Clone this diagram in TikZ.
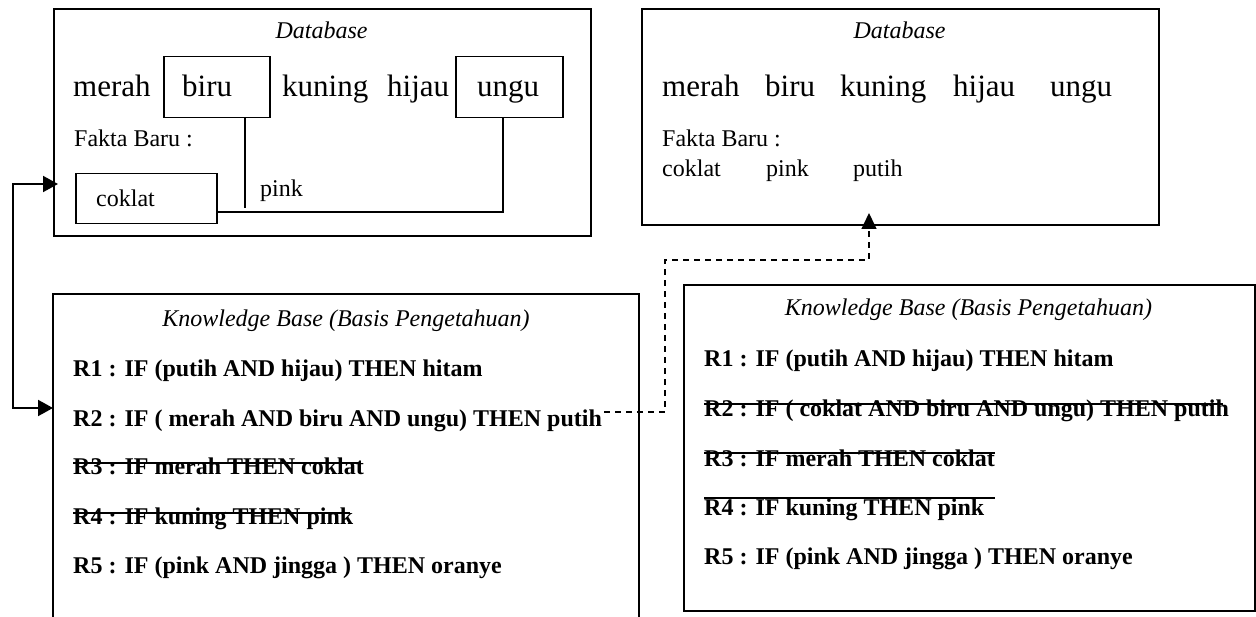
\documentclass[tikz,border=0pt]{standalone}
\usepackage{fontspec}
\setmainfont{Liberation Serif}
\usetikzlibrary{arrows.meta}
\begin{document}
\begin{tikzpicture}[x=1pt,y=-1pt,
  frame/.style={draw=black,line width=1.7pt,inner sep=0pt,anchor=north west},
  tagbox/.style={draw=black,line width=1.5pt,inner sep=0pt,anchor=north west},
  lbl/.style={inner sep=0pt,anchor=base west,font=\fontsize{24}{28}\selectfont},
  big/.style={inner sep=0pt,anchor=base west,font=\fontsize{31}{36}\selectfont},
  title/.style={inner sep=0pt,anchor=base,font=\fontsize{24}{28}\selectfont\itshape},
  rule/.style={inner sep=0pt,anchor=base west,font=\fontsize{24}{28}\selectfont\bfseries},
  link/.style={line width=1.5pt},
  strike/.style={line width=1.5pt},
  loopline/.style={line width=2pt,
    {Triangle[length=15pt,width=16pt]}-{Triangle[length=15pt,width=16pt]}},
  dashlink/.style={line width=1.5pt,dash pattern=on 6pt off 5pt,
    -{Triangle[length=16pt,width=15pt]}},
]
\useasboundingbox[fill=white] (0,0) rectangle (1256,617);

% ---------- Database (before) ----------
\node[frame,minimum width=537pt,minimum height=227pt] (dbL) at (53,8) {};
\node[title] (dbLt) at (321.5,39) {Database};
\node[big] (mL) at (73,97) {merah};
\node[tagbox,minimum width=106pt,minimum height=61pt] (biruBox) at (163,56) {};
\node[big] (bL) at (182,97) {biru};
\node[big] (kL) at (282,97) {kuning};
\node[big] (hL) at (387,97) {hijau};
\node[tagbox,minimum width=107pt,minimum height=61pt] (unguBox) at (455,56) {};
\node[big] (uL) at (477,97) {ungu};
\node[lbl] (fbL) at (74,147) {Fakta Baru :};
\node[tagbox,minimum width=141pt,minimum height=50pt] (coklatBox) at (75,173) {};
\node[lbl] (cL) at (96,207) {coklat};
\node[lbl] (pL) at (260,197) {pink};

\coordinate (biruDrop) at (245,208);
\coordinate (unguCorner) at (503,212);
\draw[link] (biruBox.south -| biruDrop) -- (biruDrop);
\draw[link] (unguBox.south -| unguCorner) -- (unguCorner) -- (coklatBox.east |- unguCorner);

% ---------- Database (after) ----------
\node[frame,minimum width=517pt,minimum height=216pt] (dbR) at (641,8) {};
\node[title] (dbRt) at (899.5,39) {Database};
\node[big] (mR) at (662,97) {merah};
\node[big] (bR) at (765,97) {biru};
\node[big] (kR) at (840,97) {kuning};
\node[big] (hR) at (953,97) {hijau};
\node[big] (uR) at (1050,97) {ungu};
\node[lbl] (fbR) at (662,147) {Fakta Baru :};
\node[lbl] (cR) at (662,177) {coklat};
\node[lbl] (pR) at (766,177) {pink};
\node[lbl] (wR) at (853,177) {putih};

% ---------- Knowledge base (before), open at the bottom ----------
\coordinate (kbLtl) at (53,294);
\coordinate (kbLtr) at (639,294);
\draw[line width=1.7pt] (kbLtl |- 0,620) -- (kbLtl) -- (kbLtr) -- (kbLtr |- 0,620);
\node[title] (kbLt) at (346,327) {Knowledge Base (Basis Pengetahuan)};
\node[rule] (r1L) at (73,377) {R1 : IF (putih AND hijau) THEN hitam};
\node[rule] (r2L) at (73,427) {R2 : IF ( merah AND biru AND ungu) THEN putih};
\node[rule] (r3L) at (73,475) {R3 : IF merah THEN coklat};
\node[rule] (r4L) at (73,524) {R4 : IF kuning THEN pink};
\node[rule] (r5L) at (73,573) {R5 : IF (pink AND jingga ) THEN oranye};
\draw[strike] (73,463) -- (361,463);
\draw[strike] (73,513) -- (350,513);

% ---------- Knowledge base (after) ----------
\node[frame,minimum width=571pt,minimum height=326pt] (kbR) at (683,284) {};
\node[title] (kbRt) at (968.5,316) {Knowledge Base (Basis Pengetahuan)};
\node[rule] (r1R) at (704,367) {R1 : IF (putih AND hijau) THEN hitam};
\node[rule] (r2R) at (704,417) {R2 : IF ( coklat AND biru AND ungu) THEN putih};
\node[rule] (r3R) at (704,466) {R3 : IF merah THEN coklat};
\node[rule] (r4R) at (704,515) {R4 : IF kuning THEN pink};
\node[rule] (r5R) at (704,564) {R5 : IF (pink AND jingga ) THEN oranye};
\draw[strike] (704,404) -- (1223,404);
\draw[strike] (704,453) -- (995,453);
\draw[strike] (704,498) -- (995,498);

% ---------- loop between knowledge base and database ----------
\coordinate (dbEntry) at (58,184);
\coordinate (loopTop) at (13,184);
\coordinate (loopBot) at (13,408);
\draw[loopline] (dbEntry) -- (loopTop) -- (loopBot) -- (kbLtl |- loopBot);

% ---------- new fact from R2 into the database ----------
\coordinate (r2Out) at (604,412);
\coordinate (dA) at (665,412);
\coordinate (dB) at (665,260);
\coordinate (dC) at (869,260);
\coordinate (dbIn) at (869,213);
\draw[dashlink] (r2Out) -- (dA) -- (dB) -- (dC) -- (dbIn);
\end{tikzpicture}
\end{document}
